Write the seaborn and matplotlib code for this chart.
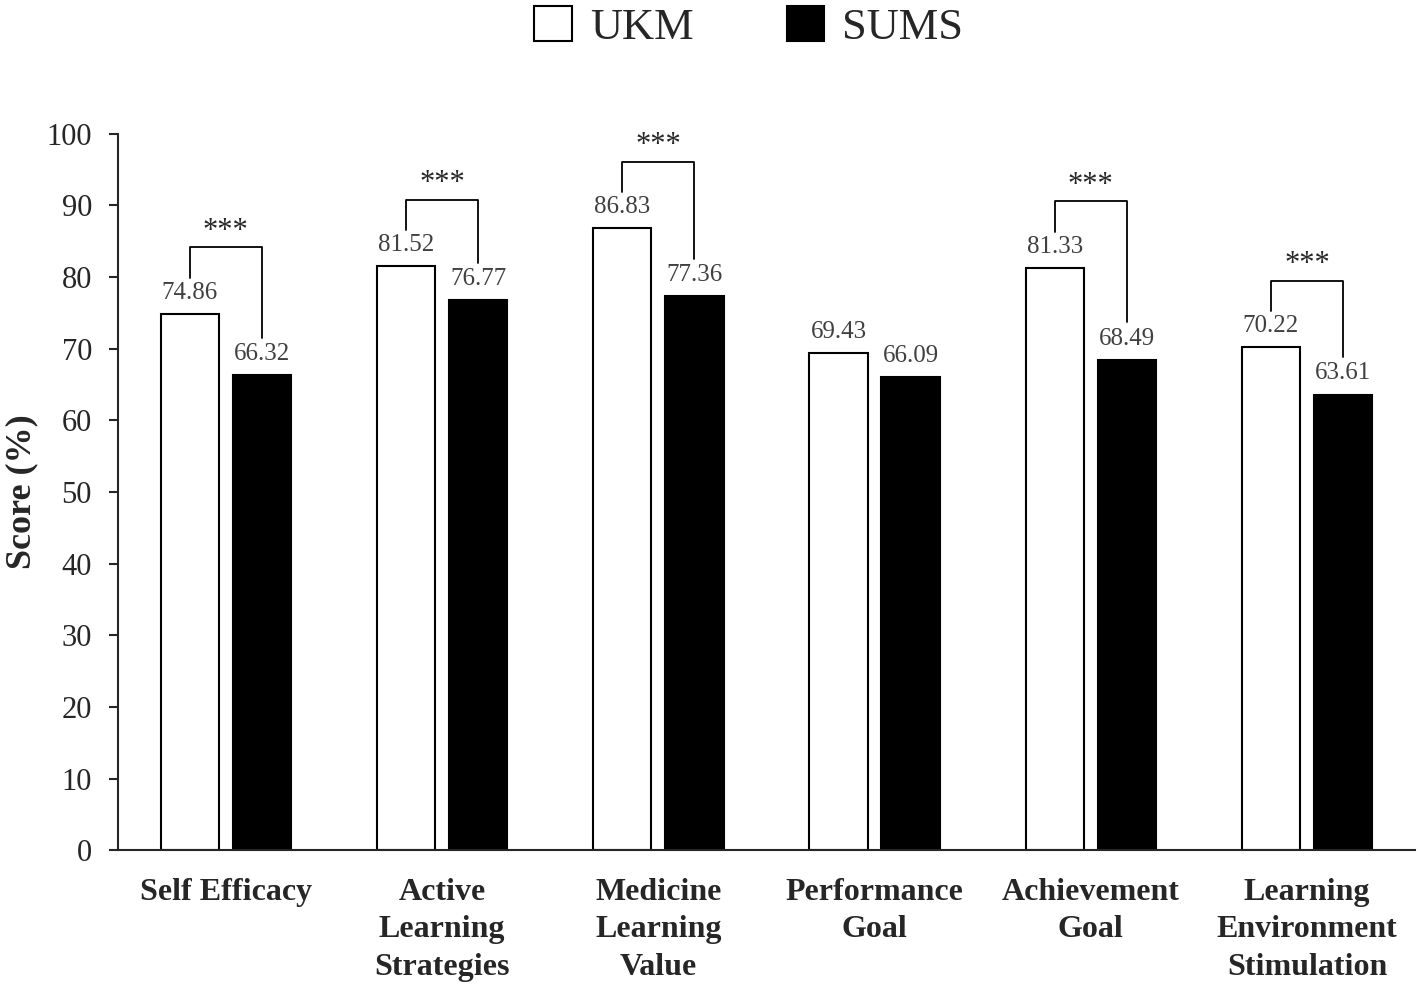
import pandas as pd
import matplotlib.pyplot as plt
import matplotlib.patches as mpatches
import seaborn as sns

# ==========================
# Data
# ==========================

categories = ["Self Efficacy", "Active\nLearning\nStrategies", "Medicine\nLearning\nValue",
              "Performance\nGoal", "Achievement\nGoal", "Learning\nEnvironment\nStimulation"]
ukm = [74.86, 81.52, 86.83, 69.43, 81.33, 70.22]
sums = [66.32, 76.77, 77.36, 66.09, 68.49, 63.61]
significant = [True, True, True, False, True, True]
groups = ["UKM", "SUMS"]

df = pd.DataFrame({
    "category": categories * 2,
    "school": ["UKM"] * len(categories) + ["SUMS"] * len(categories),
    "score": ukm + sums,
})

# ==========================
# Plot
# ==========================

sns.set_style("white")
plt.rcParams["font.family"] = ["Liberation Serif", "DejaVu Serif"]

fig = plt.figure(figsize=(14.18, 9.84), dpi=100)
ax = fig.add_axes([0.083, 0.136, 0.915, 0.728])

sns.barplot(data=df, x="category", y="score", hue="school", hue_order=groups,
            palette={"UKM": "white", "SUMS": "black"}, edgecolor="black",
            linewidth=1.5, width=0.667, gap=0.19, ax=ax, legend=False)

ax.set_ylim(0, 100)
ax.set_xlim(-0.5, 5.5)
ax.set_yticks(range(0, 101, 10))
ax.tick_params(axis="y", labelsize=22, length=6.5, width=1.5, direction="out",
               left=True, pad=12)
ax.tick_params(axis="x", labelsize=23, length=0, pad=20)
for lab in ax.get_xticklabels():
    lab.set_fontweight("bold")
    lab.set_linespacing(1.38)
ax.set_xlabel("")
ax.set_ylabel("Score (%)", fontsize=26, fontweight="bold", labelpad=6)

sns.despine(ax=ax)
ax.spines["left"].set_linewidth(1.5)
ax.spines["bottom"].set_linewidth(1.5)

# value labels
off = 0.667 / 4
for i in range(len(categories)):
    ax.text(i - off, ukm[i] + 1.4, f"{ukm[i]:.2f}", ha="center", va="bottom",
            fontsize=18, color="#404040")
    ax.text(i + off, sums[i] + 1.4, f"{sums[i]:.2f}", ha="center", va="bottom",
            fontsize=18, color="#404040")

# significance brackets
for i in range(len(categories)):
    if not significant[i]:
        continue
    top = ukm[i] + 9.3
    ax.plot([i - off, i - off, i + off, i + off],
            [ukm[i] + 5.0, top, top, sums[i] + 5.2],
            color="black", linewidth=1.3)
    ax.text(i, top + 0.2, "***", ha="center", va="bottom", fontsize=22)

# legend
handles = [mpatches.Patch(facecolor="white", edgecolor="black", linewidth=1.5, label="UKM"),
           mpatches.Patch(facecolor="black", edgecolor="black", linewidth=1.5, label="SUMS")]
fig.legend(handles=handles, loc="upper center", bbox_to_anchor=(0.528, 1.035), ncol=2,
           frameon=False, fontsize=32, handlelength=0.85, handleheight=0.85,
           columnspacing=2.1, handletextpad=0.4)

plt.savefig("out.png", dpi=100)
